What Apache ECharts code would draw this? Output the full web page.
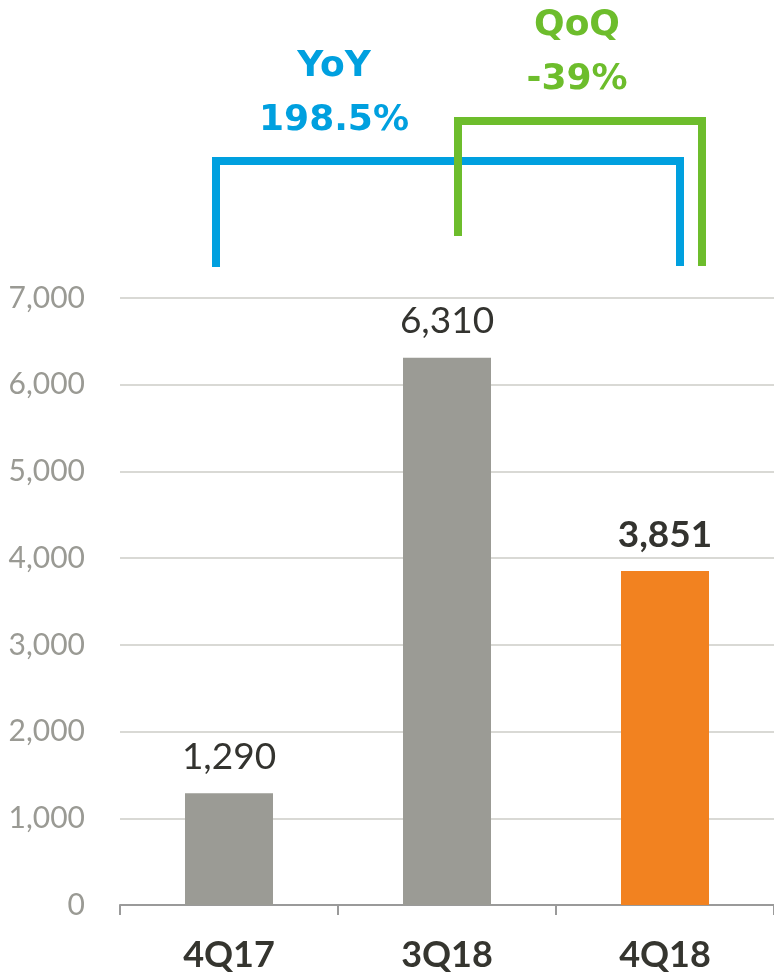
<!DOCTYPE html>
<html>
<head>
    <meta charset="utf-8">
    <script src="https://cdn.jsdelivr.net/npm/echarts@6/dist/echarts.min.js"></script>
    <style>
        html, body { margin: 0; padding: 0; background: #fff; }
    </style>
</head>
<body>
<div id="main" style="width: 774px;height:975px;"></div>

<script type="text/javascript">
    // data
    var categories = ['4Q17', '3Q18', '4Q18'];
    var values = [1290, 6310, 3851];
    var barColors = ['#9b9b95', '#9b9b95', '#f28220'];
    var boldLabel = [false, false, true];
    var yTicks = { min: 0, max: 7000, interval: 1000 };
    var yoyText = ['YoY', '198.5%'];
    var qoqText = ['QoQ', '-39%'];

    var BLUE = '#00a0df';
    var GREEN = '#6dbd2c';

    var seriesData = values.map(function (v, i) {
        return {
            value: v,
            itemStyle: { color: barColors[i] },
            label: { fontWeight: boldLabel[i] ? 'bold' : 'normal' }
        };
    });

    var myChart = echarts.init(document.getElementById('main'));
    myChart.setOption({
        animation: false,
        grid: { left: 120, right: -1, top: 298, bottom: 70 },
        xAxis: {
            type: 'category',
            data: categories,
            axisLine: { lineStyle: { color: '#9a9a9a', width: 2 } },
            axisTick: { show: true, length: 10, lineStyle: { color: '#9a9a9a', width: 2 } },
            axisLabel: {
                margin: 32,
                fontFamily: 'Lato',
                fontWeight: 'bold',
                fontSize: 36,
                color: '#35352f'
            }
        },
        yAxis: {
            type: 'value',
            min: yTicks.min,
            max: yTicks.max,
            interval: yTicks.interval,
            axisLine: { show: false },
            axisTick: { show: false },
            splitLine: { lineStyle: { color: '#d9d9d5', width: 2 } },
            axisLabel: {
                margin: 35,
                fontFamily: 'Lato',
                fontSize: 30,
                color: '#9a9a94',
                formatter: function (v) { return v.toLocaleString('en-US'); }
            }
        },
        series: [{
            type: 'bar',
            data: seriesData,
            barWidth: 88,
            label: {
                show: true,
                position: 'top',
                distance: 18,
                fontFamily: 'Lato',
                fontSize: 37,
                color: '#33332f',
                formatter: function (p) { return p.value.toLocaleString('en-US'); }
            }
        }],
        graphic: [
            {
                type: 'polyline',
                shape: { points: [[216, 267], [216, 161], [680, 161], [680, 266]] },
                style: { stroke: BLUE, lineWidth: 8, fill: null, lineJoin: 'miter' }
            },
            {
                type: 'polyline',
                shape: { points: [[458, 236], [458, 121], [702, 121], [702, 266]] },
                style: { stroke: GREEN, lineWidth: 8, fill: null, lineJoin: 'miter' }
            },
            {
                type: 'text', x: 334, y: 67,
                style: { text: yoyText[0], fill: BLUE, font: 'bold 36px "DejaVu Sans"', align: 'center', verticalAlign: 'middle' }
            },
            {
                type: 'text', x: 334, y: 121,
                style: { text: yoyText[1], fill: BLUE, font: 'bold 36px "DejaVu Sans"', align: 'center', verticalAlign: 'middle' }
            },
            {
                type: 'text', x: 577, y: 26,
                style: { text: qoqText[0], fill: GREEN, font: 'bold 36px "DejaVu Sans"', align: 'center', verticalAlign: 'middle' }
            },
            {
                type: 'text', x: 577, y: 80,
                style: { text: qoqText[1], fill: GREEN, font: 'bold 36px "DejaVu Sans"', align: 'center', verticalAlign: 'middle' }
            }
        ]
    });
</script>
</body>
</html>
